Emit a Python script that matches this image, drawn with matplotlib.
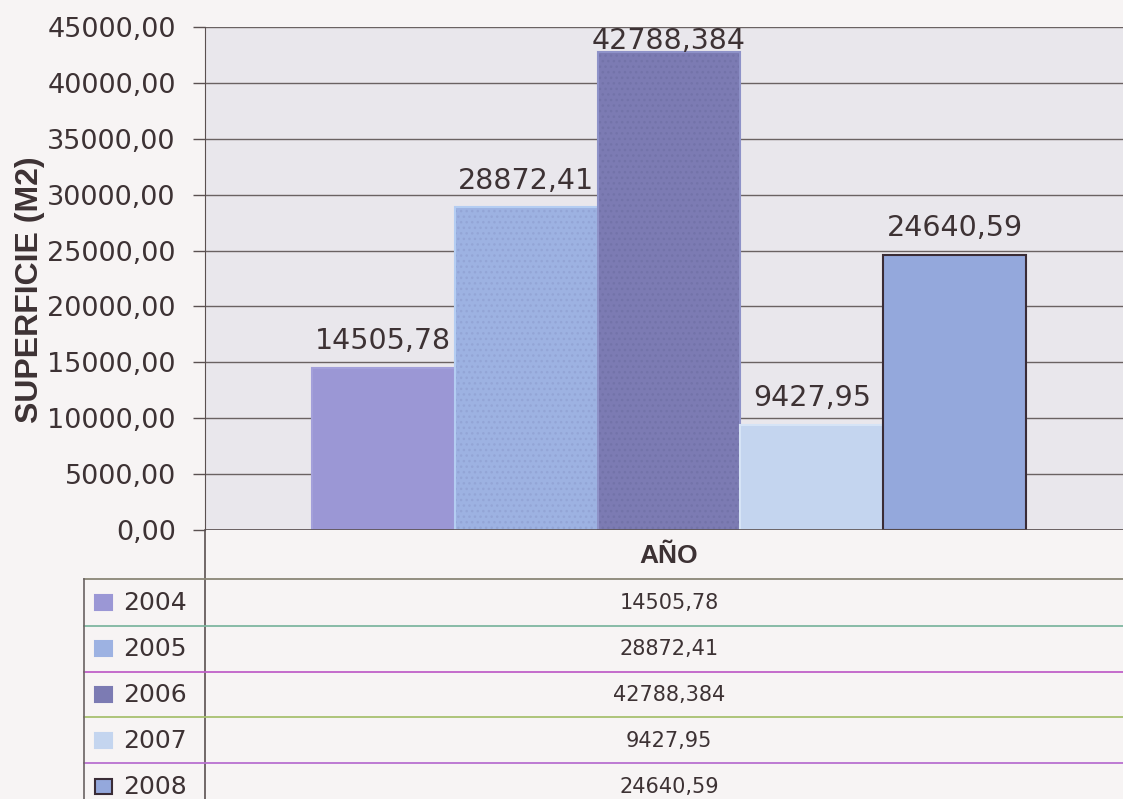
import matplotlib.pyplot as plt
from matplotlib.lines import Line2D
from matplotlib.patches import Rectangle
from matplotlib.ticker import FuncFormatter

plt.rcParams['font.family'] = ['DejaVu Sans']
plt.rcParams['hatch.linewidth'] = 1.0

# datos
years = ['2004', '2005', '2006', '2007', '2008']
area = [14505.78, 28872.41, 42788.384, 9427.95, 24640.59]
colors = ['#9b97d5', '#9db2e2', '#7c7bb3', '#c4d5ef', '#94a8dc']
edges = ['#a3a0da', '#b4cdf2', '#8e92c8', '#d6e4f6', '#3a2c36']
hatches = ['', '...', '...', '', '']
dots = ['none', '#93a5d6', '#7373a9', 'none', 'none']
yticks = [0, 5000, 10000, 15000, 20000, 25000, 30000, 35000, 40000, 45000]

W, H = 1123, 799
txt = '#3d3234'


def fx(px):
    return px / W


def fy(py):
    return 1 - py / H


def coma(v):
    return str(v).replace('.', ',')


fig = plt.figure(figsize=(W / 100, H / 100), dpi=100)
fig.patch.set_facecolor('#f7f4f4')

ax = fig.add_axes([fx(205), fy(530), fx(1133) - fx(205), fy(27) - fy(530)])
ax.set_facecolor('#e9e7ec')

x = list(range(len(years)))
ax.bar(x, area, width=1.0, color=colors, edgecolor=edges, linewidth=1.5, zorder=3)
for xi, v, h, d in zip(x, area, hatches, dots):
    if h:
        ax.bar(xi, v, width=0.98, fill=False, hatch=h, edgecolor=d, linewidth=0, zorder=3.5)

ax.set_xlim(-1.249, 5.249)
ax.set_ylim(0, 45000)
ax.set_yticks(yticks)
ax.yaxis.set_major_formatter(FuncFormatter(lambda v, p: '{:.2f}'.format(v).replace('.', ',')))
ax.tick_params(axis='y', labelsize=19.5, labelcolor=txt, length=9, width=1, color='#5a5050', pad=12)
ax.set_xticks([])
ax.yaxis.grid(True, color='#6a6262', linewidth=1)
ax.set_axisbelow(True)
for s in ['top', 'right', 'bottom']:
    ax.spines[s].set_visible(False)
ax.spines['left'].set_color('#5a5050')
ax.axhline(0, color='#5a5050', linewidth=1.2, zorder=4)
ax.set_ylabel('SUPERFICIE (M2)', fontsize=23, fontweight='bold', color=txt,
              family='Liberation Sans')
ax.yaxis.set_label_coords(-0.172, 0.477)

# etiquetas de valores (se mantienen dentro del area de trazado)
fig.canvas.draw()
renderer = fig.canvas.get_renderer()
ax_top = ax.get_window_extent(renderer).y1
for xi, v in zip(x, area):
    ann = ax.annotate(coma(v), (xi, v), xytext=(0, 9), textcoords='offset points',
                      ha='center', va='bottom', fontsize=20.5, color=txt, zorder=5)
    bb = ann.get_window_extent(renderer)
    if bb.y1 > ax_top:
        ann.set_position((0, 9 - (bb.y1 - ax_top) * 72 / fig.dpi))

# tabla de datos
fig.add_artist(Line2D([fx(205), fx(205)], [fy(530), 0], color='#5a5050', linewidth=1.2))
fig.text(fx(669), fy(556), 'AÑO', ha='center', va='center', fontsize=19, fontweight='bold',
         color=txt, family='Liberation Sans')

row_lines = [579, 626, 672, 717, 763]
line_cols = ['#8a8676', '#7fb6a0', '#c060c8', '#a8c070', '#b870d0']
for yl, c in zip(row_lines, line_cols):
    fig.add_artist(Line2D([fx(84), 1], [fy(yl), fy(yl)], color=c, linewidth=1.3))
fig.add_artist(Line2D([fx(84), fx(84)], [fy(579), 0], color='#6a6262', linewidth=1.2))

for i, (yr, v) in enumerate(zip(years, area)):
    yc = 579 + 46 * i + 24
    fig.add_artist(Rectangle((fx(95), fy(yc + 7)), fx(17), fy(0) - fy(15),
                             facecolor=colors[i], edgecolor=edges[i] if i == 4 else colors[i],
                             linewidth=1.5))
    fig.text(fx(123), fy(yc), yr, ha='left', va='center', fontsize=18, color=txt)
    fig.text(fx(669), fy(yc), coma(v), ha='center', va='center', fontsize=15, color=txt)

fig.savefig('out.png', dpi=100, facecolor=fig.get_facecolor())
